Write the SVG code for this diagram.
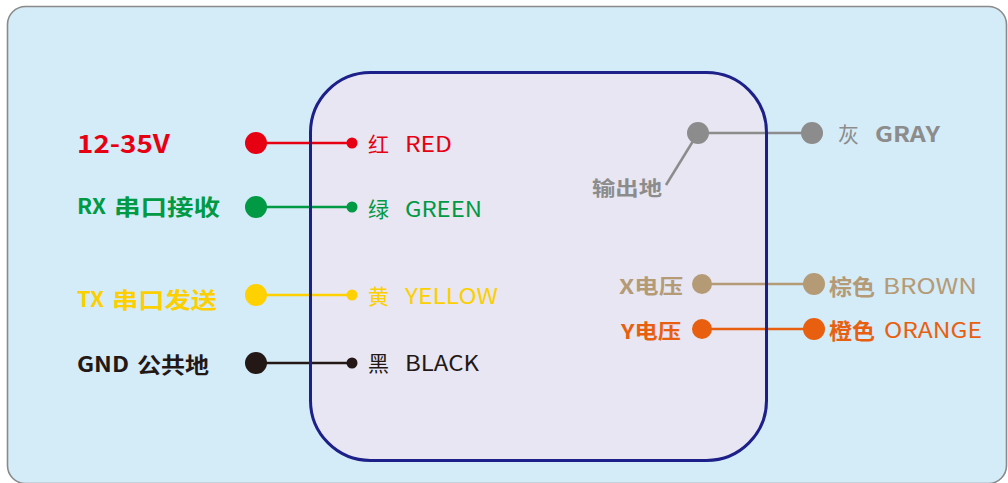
<svg xmlns="http://www.w3.org/2000/svg" width="1008" height="483" viewBox="0 0 1008 483">
<style>
text{font-family:"Noto Sans CJK SC","Noto Sans",sans-serif;dominant-baseline:central}
.b{font-weight:bold}
.n{font-weight:normal}
.w{stroke-width:2.5;fill:none}
</style>
<rect width="1008" height="483" fill="#ffffff"/>
<g id="frame">
<rect x="7.5" y="6.5" width="999" height="477" rx="18" fill="#D4EBF8" stroke="#8A8A8A" stroke-width="1.6"/>
</g>
<g id="module-fill">
<rect x="310.5" y="72.5" width="456" height="388" rx="60" fill="#E7E6F2"/>
</g>
<g id="connectors">
<line class="w" x1="256" y1="143" x2="352" y2="143" stroke="#E60012"/>
<line class="w" x1="256" y1="207" x2="352" y2="207" stroke="#009944"/>
<line class="w" x1="256" y1="295" x2="352" y2="295" stroke="#FFD100"/>
<line class="w" x1="256" y1="363" x2="352" y2="363" stroke="#231815"/>
<line class="w" x1="698" y1="133" x2="812" y2="133" stroke="#8C8C8C"/>
<line class="w" x1="698" y1="133" x2="666" y2="185" stroke="#8C8C8C"/>
<line class="w" x1="702" y1="284" x2="814" y2="284" stroke="#B59A76"/>
<line class="w" x1="702" y1="329" x2="814" y2="329" stroke="#E8600F"/>
</g>
<g id="module">
<rect x="310.5" y="72.5" width="456" height="388" rx="60" fill="none" stroke="#1D2088" stroke-width="3"/>
</g>
<g id="red">
<circle cx="256" cy="143" r="11" fill="#E60012"/>
<circle cx="352" cy="143" r="5.5" fill="#E60012"/>
<text class="b" x="77" y="142" font-size="25" fill="#E60012" textLength="93" lengthAdjust="spacingAndGlyphs">12-35V</text>
<text class="n" x="368" y="143" font-size="21" fill="#E60012">红</text>
<text class="n" x="405" y="143" font-size="21" fill="#E60012" textLength="47" lengthAdjust="spacingAndGlyphs">RED</text>
</g>
<g id="green">
<circle cx="256" cy="207" r="11" fill="#009944"/>
<circle cx="352" cy="207" r="5.5" fill="#009944"/>
<text class="b" x="77" y="205" font-size="21" fill="#009944" textLength="29" lengthAdjust="spacingAndGlyphs">RX</text>
<text class="b" x="114" y="205" font-size="22" fill="#009944" textLength="106" lengthAdjust="spacingAndGlyphs">串口接收</text>
<text class="n" x="368" y="208" font-size="21" fill="#009944">绿</text>
<text class="n" x="405" y="208" font-size="21" fill="#009944" textLength="77" lengthAdjust="spacingAndGlyphs">GREEN</text>
</g>
<g id="yellow">
<circle cx="256" cy="295" r="11" fill="#FFD100"/>
<circle cx="352" cy="295" r="5.5" fill="#FFD100"/>
<text class="b" x="77" y="298" font-size="21" fill="#FCCF00" textLength="27" lengthAdjust="spacingAndGlyphs">TX</text>
<text class="b" x="112" y="298" font-size="22" fill="#FCCF00" textLength="105" lengthAdjust="spacingAndGlyphs">串口发送</text>
<text class="n" x="368" y="295" font-size="21" fill="#FCCF00">黄</text>
<text class="n" x="405" y="295" font-size="21" fill="#FCCF00" textLength="93" lengthAdjust="spacingAndGlyphs">YELLOW</text>
</g>
<g id="black">
<circle cx="256" cy="363" r="11" fill="#231815"/>
<circle cx="352" cy="363" r="5.5" fill="#231815"/>
<text class="b" x="77" y="363" font-size="21" fill="#231815" textLength="52" lengthAdjust="spacingAndGlyphs">GND</text>
<text class="b" x="137" y="363" font-size="22" fill="#231815" textLength="72" lengthAdjust="spacingAndGlyphs">公共地</text>
<text class="n" x="368" y="362" font-size="21" fill="#231815">黑</text>
<text class="n" x="405" y="362" font-size="21" fill="#231815" textLength="74" lengthAdjust="spacingAndGlyphs">BLACK</text>
</g>
<g id="gray">
<circle cx="698" cy="133" r="11" fill="#8C8C8C"/>
<circle cx="812" cy="133" r="11" fill="#8C8C8C"/>
<text class="b" x="592" y="187" font-size="20" fill="#8C8C8C" textLength="70" lengthAdjust="spacingAndGlyphs">输出地</text>
<text class="n" x="838" y="133" font-size="21" fill="#8C8C8C">灰</text>
<text class="b" x="875" y="133" font-size="21" fill="#8C8C8C" textLength="65" lengthAdjust="spacingAndGlyphs">GRAY</text>
</g>
<g id="brown">
<circle cx="702" cy="284" r="10" fill="#B59A76"/>
<circle cx="814" cy="284" r="11" fill="#B59A76"/>
<text class="b" x="619" y="285" font-size="20" fill="#B59A76" textLength="64" lengthAdjust="spacingAndGlyphs">X电压</text>
<text class="b" x="829" y="285" font-size="22" fill="#B59A76" textLength="46" lengthAdjust="spacingAndGlyphs">棕色</text>
<text class="n" x="883" y="285" font-size="21" fill="#B59A76" textLength="94" lengthAdjust="spacingAndGlyphs">BROWN</text>
</g>
<g id="orange">
<circle cx="702" cy="329" r="10" fill="#E8600F"/>
<circle cx="814" cy="329" r="11" fill="#E8600F"/>
<text class="b" x="621" y="330" font-size="20" fill="#E8600F" textLength="60" lengthAdjust="spacingAndGlyphs">Y电压</text>
<text class="b" x="829" y="329" font-size="22" fill="#E8600F" textLength="46" lengthAdjust="spacingAndGlyphs">橙色</text>
<text class="n" x="884" y="329" font-size="21" fill="#E8600F" textLength="98" lengthAdjust="spacingAndGlyphs">ORANGE</text>
</g>
</svg>
